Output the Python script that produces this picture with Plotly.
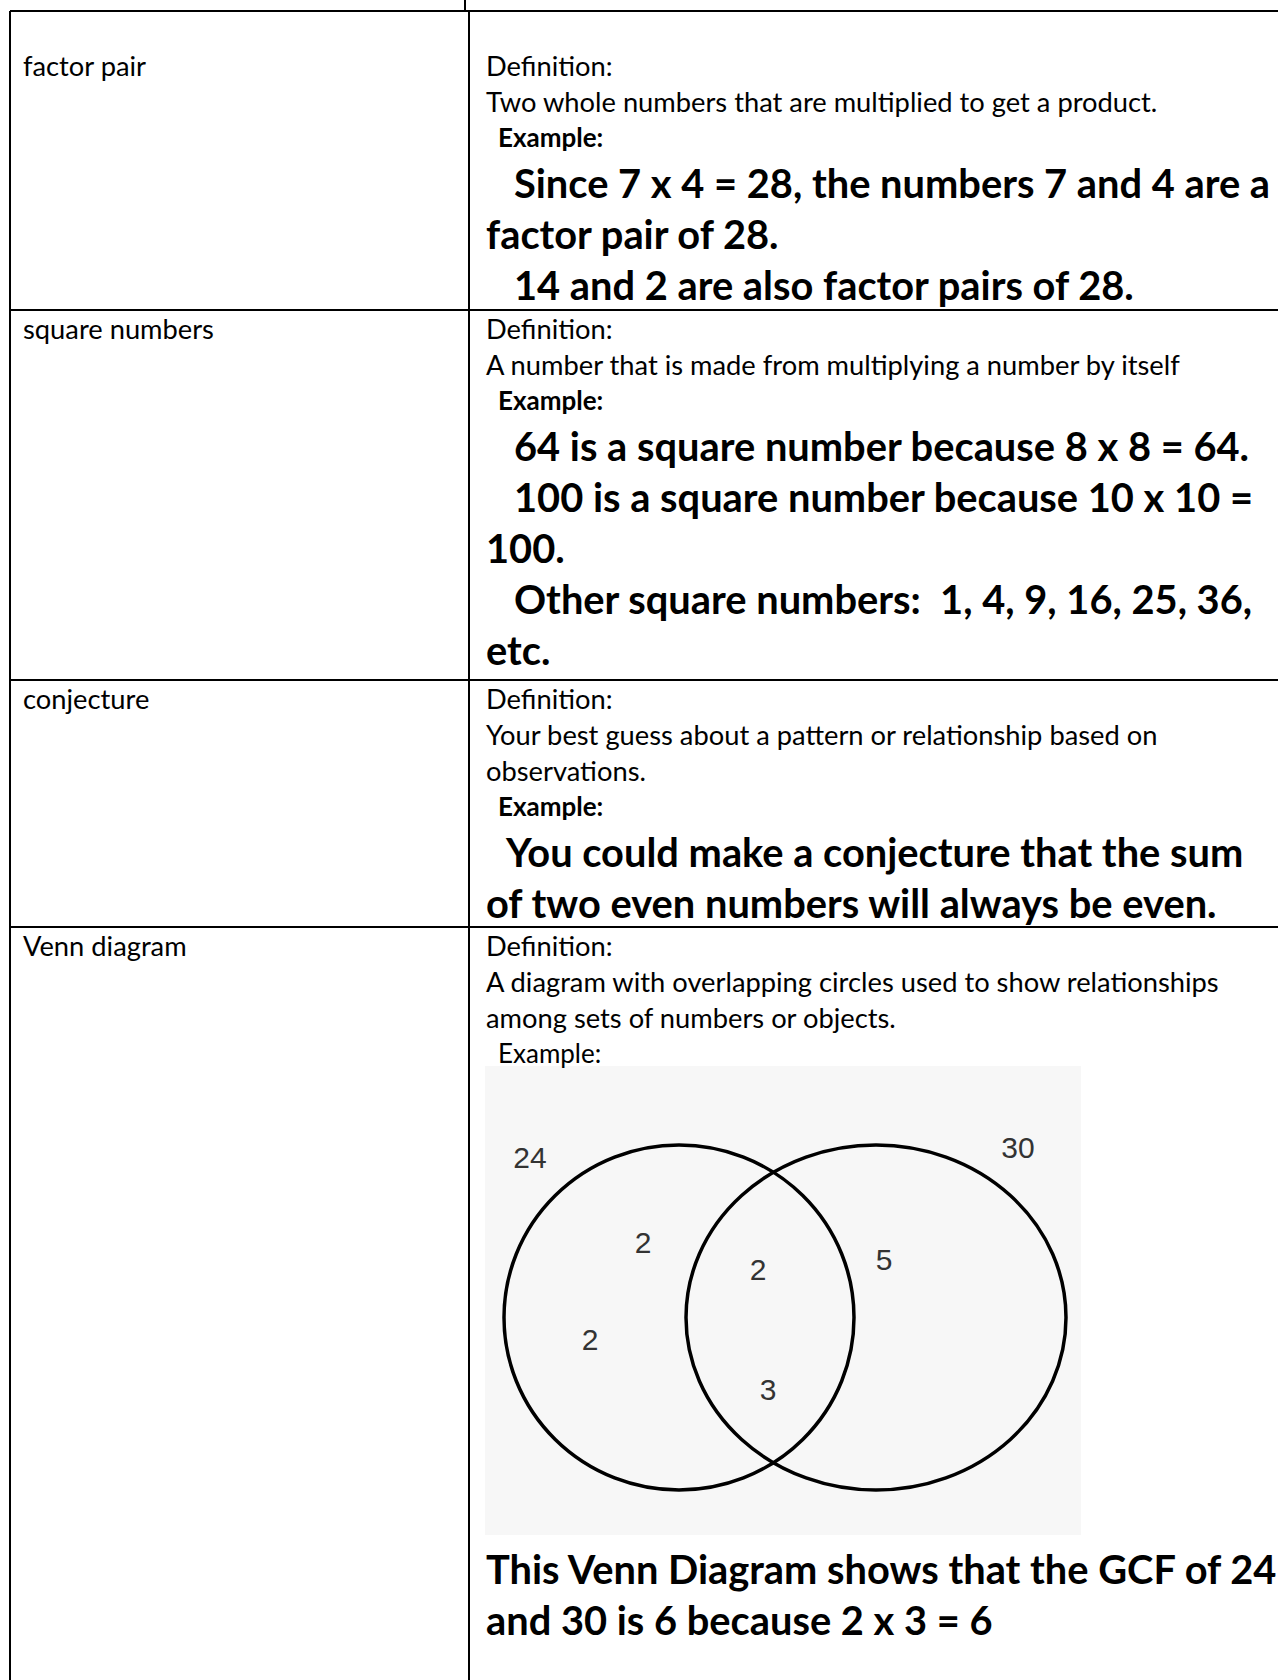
import plotly.graph_objects as go

# ---------- content ----------
terms = ["factor pair", "square numbers", "conjecture", "Venn diagram"]

definitions = [
    ["Two whole numbers that are multiplied to get a product."],
    ["A number that is made from multiplying a number by itself"],
    ["Your best guess about a pattern or relationship based on", "observations."],
    ["A diagram with overlapping circles used to show relationships",
     "among sets of numbers or objects."],
]

# each example = list of paragraphs, each paragraph = its wrapped lines
examples = [
    [["Since 7 x 4 = 28, the numbers 7 and 4 are a", "factor pair of 28."],
     ["14 and 2 are also factor pairs of 28."]],
    [["64 is a square number because 8 x 8 = 64."],
     ["100 is a square number because 10 x 10 =", "100."],
     ["Other square numbers:\u00a0 1, 4, 9, 16, 25, 36,", "etc."]],
    [["You could make a conjecture that the sum",
      "of two even numbers will always be even."]],
    [],
]

venn_sets = ["24", "30"]
only_24 = ["2", "2"]
shared = ["2", "3"]
only_30 = ["5"]
venn_caption = ["This Venn Diagram shows that the GCF of 24",
                "and 30 is 6 because 2 x 3 = 6"]

# ---------- layout ----------
W, H = 1278, 1680
LEFT, DIV, TOP_TICK = 10, 469, 465
row_lines = [11, 310, 680, 927]
row_first = [65, 328, 698, 945]
example_bold = [True, True, True, False]
para_indent = [28, 28, 19, 0]
STEP, BIG_GAP, BIG_STEP = 36, 45, 51
X_TERM, X_DEF, X_EX = 21, 484, 496
F_NORM, F_EX, F_BIG = 27.3, 26, 39.8

REG = "Lato, 'Open Sans', sans-serif"
BLACK = "#000000"

fig = go.Figure()
ann = []

def add_text(x, y, text, size, bold=False):
    ann.append(dict(x=x, y=y, xref="x", yref="y", text=f"<b>{text}</b>" if bold else text,
                    showarrow=False, xanchor="left", yanchor="middle",
                    font=dict(family=REG, size=size, color=BLACK)))

for i, term in enumerate(terms):
    y = row_first[i]
    add_text(X_TERM, y, term, F_NORM)
    add_text(X_DEF, y, "Definition:", F_NORM)
    for line in definitions[i]:
        y += STEP
        add_text(X_DEF, y, line, F_NORM)
    y += STEP
    add_text(X_EX, y, "Example:", F_EX, bold=example_bold[i])
    first = True
    for para in examples[i]:
        for j, line in enumerate(para):
            y += BIG_GAP if first else BIG_STEP
            first = False
            add_text(X_DEF + (para_indent[i] if j == 0 else 0), y, line, F_BIG, bold=True)

# Venn caption
cap_y = [1568, 1619]
for y, line in zip(cap_y, venn_caption):
    add_text(X_DEF, y, line, F_BIG, bold=True)

# ---------- table rules ----------
shapes = []
def rule(x0, y0, x1, y1, w=2):
    shapes.append(dict(type="line", xref="x", yref="y", x0=x0, y0=y0, x1=x1, y1=y1,
                       line=dict(color=BLACK, width=w)))

rule(TOP_TICK, 0, TOP_TICK, row_lines[0])
for y in row_lines:
    rule(LEFT, y, W, y)
rule(LEFT, row_lines[0], LEFT, H)
rule(DIV, row_lines[0], DIV, H)

# ---------- Venn picture ----------
shapes.append(dict(type="rect", xref="x", yref="y", x0=485, y0=1066, x1=1081, y1=1535,
                   fillcolor="#f7f7f7", line=dict(width=0), layer="below"))
venn_circles = [(504, 1145, 854, 1490), (686, 1145, 1066, 1490)]
for x0, y0, x1, y1 in venn_circles:
    shapes.append(dict(type="circle", xref="x", yref="y", x0=x0, y0=y0, x1=x1, y1=y1,
                       line=dict(color=BLACK, width=3.5)))

venn_labels = venn_sets + only_24 + shared + only_30
venn_x = [530, 1018, 643, 590, 758, 768, 884]
venn_y = [1160, 1150, 1245, 1342, 1272, 1392, 1262]
fig.add_trace(go.Scatter(
    x=venn_x, y=venn_y, mode="text", text=venn_labels, hoverinfo="skip",
    textfont=dict(family="'Liberation Sans Narrow', 'Liberation Sans', sans-serif",
                  size=30, color="#333333"),
    showlegend=False))

fig.update_layout(
    width=W, height=H, margin=dict(l=0, r=0, t=0, b=0),
    paper_bgcolor="white", plot_bgcolor="white",
    xaxis=dict(range=[0, W], visible=False, fixedrange=True),
    yaxis=dict(range=[H, 0], visible=False, fixedrange=True),
    annotations=ann, shapes=shapes,
)

# the page body has a default 8px margin; drop it so the figure fills the window
fig.write_html("out.html", config={"displayModeBar": False},
               post_script="document.body.style.margin='0';")
